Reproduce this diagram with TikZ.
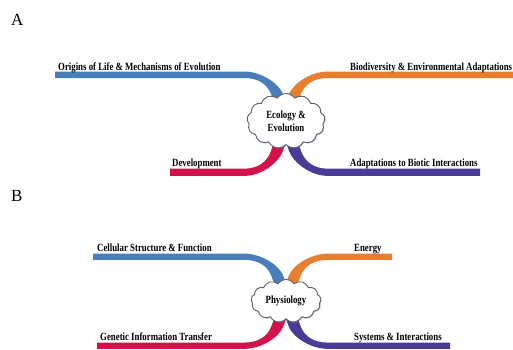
\documentclass[tikz,border=0pt]{standalone}
\usepackage{fontspec}
\setmainfont{Liberation Serif}
\newfontfamily\labfont[FakeStretch=0.8]{Liberation Serif}
\usetikzlibrary{shapes.symbols,shadows}
\definecolor{brblue}{HTML}{4A7EBB}
\definecolor{brorange}{HTML}{E87E2F}
\definecolor{brred}{HTML}{D2134A}
\definecolor{brpurple}{HTML}{4B3A96}
\definecolor{cloudline}{HTML}{5A5E6E}
\newcommand{\branchshape}[2]{%
  \fill[#1] (-#2,-49.5) -- (-42,-49.5) .. controls (-24,-49.5) and (-7,-37) .. (-3,-27)
    -- (7,0) -- (-5,0) -- (-15,-27) .. controls (-19,-37) and (-28,-43) .. (-42,-43)
    -- (-#2,-43) -- cycle;}
\tikzset{
  lab/.style={inner sep=0pt, anchor=base west, font=\labfont\bfseries\fontsize{11}{13}\selectfont},
  panellab/.style={inner sep=0pt, anchor=base west, font=\fontsize{17}{19}\selectfont},
  cloudbox/.style={cloud, cloud puffs=13, cloud puff arc=110, cloud ignores aspect,
    draw=cloudline, line width=0.9pt, fill=white, inner sep=0pt, align=center,
    drop shadow={opacity=0.35, shadow xshift=1pt, shadow yshift=-1pt},
    font=\labfont\bfseries\fontsize{11}{13}\selectfont}
}
\begin{document}
\begin{tikzpicture}[x=1pt,y=-1pt]
\useasboundingbox (0,0) rectangle (513,349);
\node[panellab] (labA) at (11,25) {A};
\node[panellab] (labB) at (11,201) {B};
% ---------- panel A ----------
\coordinate (cA) at (286,121);
\begin{scope}[shift={(cA)}] \branchshape{brblue}{231} \end{scope}
\begin{scope}[shift={(cA)},xscale=-1] \branchshape{brorange}{230} \end{scope}
\begin{scope}[shift={(cA)},yscale=-1.109] \branchshape{brred}{116} \end{scope}
\begin{scope}[shift={(cA)},xscale=-1,yscale=-1.109] \branchshape{brpurple}{194} \end{scope}
\node[cloudbox, minimum width=78pt, minimum height=55pt] (cloudA) at (cA) {Ecology \&\\Evolution};
\node[lab] (tA1) at (58,70) {Origins of Life \& Mechanisms of Evolution};
\node[lab] (tA2) at (350,70) {Biodiversity \& Environmental Adaptations};
\node[lab] (tA3) at (172,166) {Development};
\node[lab] (tA4) at (350,166) {Adaptations to Biotic Interactions};
% ---------- panel B ----------
\coordinate (cB) at (286,301);
\begin{scope}[shift={(cB)},yscale=0.957] \branchshape{brblue}{193} \end{scope}
\begin{scope}[shift={(cB)},xscale=-1,yscale=0.957] \branchshape{brorange}{106} \end{scope}
\begin{scope}[shift={(cB)},yscale=-0.967] \branchshape{brred}{189} \end{scope}
\begin{scope}[shift={(cB)},xscale=-1,yscale=-0.967] \branchshape{brpurple}{164} \end{scope}
\node[cloudbox, minimum width=70pt, minimum height=43pt] (cloudB) at (cB) {Physiology};
\node[lab] (tB1) at (97,251) {Cellular Structure \& Function};
\node[lab] (tB2) at (354,251) {Energy};
\node[lab] (tB3) at (100,340) {Genetic Information Transfer};
\node[lab] (tB4) at (354,340) {Systems \& Interactions};
\end{tikzpicture}
\end{document}
